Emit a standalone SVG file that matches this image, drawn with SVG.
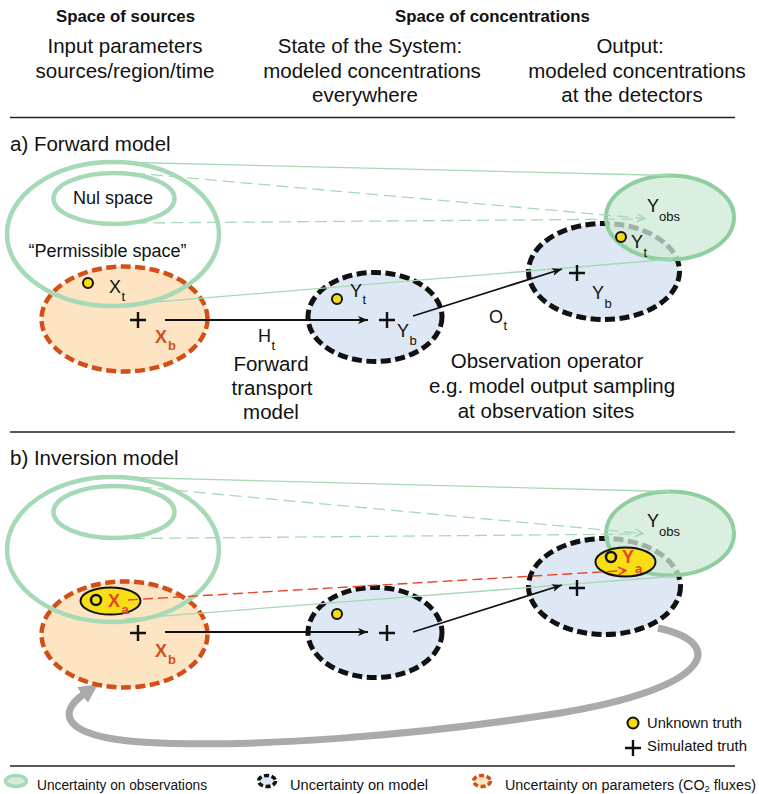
<svg xmlns="http://www.w3.org/2000/svg" width="759" height="794" viewBox="0 0 759 794">
<style>
text{font-family:"Liberation Sans",Arial,sans-serif;fill:#111}
.hb{font-size:16.8px;font-weight:bold;text-anchor:middle}
.h{font-size:20.5px;text-anchor:middle}
.sec{font-size:20.5px}
.lab{font-size:18px}
.sub{font-size:13px}
.red{fill:#e2462a;font-weight:bold}
.redb{fill:#d2501c;font-weight:bold}
.leg{font-size:15px}
.legb{font-size:14px}
.sep{stroke:#222;stroke-width:1.3}
.gr{fill:none;stroke:#a6d9b6;stroke-width:4.5}
.grl{fill:none;stroke:#a6d9b6;stroke-width:1.3}
.grd{fill:none;stroke:#a6d9b6;stroke-width:1.3;stroke-dasharray:12 6}
.obs{fill:#cfe9d5;fill-opacity:0.75;stroke:#8fcea0;stroke-width:4}
.org{fill:#fde4c3;stroke:#d44f18;stroke-width:4.5;stroke-dasharray:10 4.5}
.blu{fill:#dde8f4;stroke:#111;stroke-width:5;stroke-dasharray:10 4.5}
.dot{fill:#f7da10;stroke:#111;stroke-width:2}
.ring{fill:none;stroke:#111;stroke-width:2.5}
.yel{fill:#f8df14;stroke:#111;stroke-width:2}
.plus{stroke:#111;stroke-width:2.4}
.arr{stroke:#111;stroke-width:1.8;fill:none}
.rd{stroke:#e8442a;stroke-width:1.4;stroke-dasharray:10 5;fill:none}
</style>
<defs>
<marker id="ah" viewBox="0 0 10 8" refX="10" refY="4" markerWidth="10" markerHeight="8" markerUnits="userSpaceOnUse" orient="auto"><path d="M0,0 L10,4 L0,8 L2.5,4 z" fill="#111"/></marker>
<marker id="gch" viewBox="0 0 10 10" refX="9" refY="5" markerWidth="10" markerHeight="10" markerUnits="userSpaceOnUse" orient="auto"><path d="M1,1 L9,5 L1,9" fill="none" stroke="#a6d9b6" stroke-width="1.4"/></marker>
<marker id="rch" viewBox="0 0 10 10" refX="9" refY="5" markerWidth="10" markerHeight="10" markerUnits="userSpaceOnUse" orient="auto"><path d="M1,1 L9,5 L1,9" fill="none" stroke="#e8442a" stroke-width="1.6"/></marker>
<marker id="gah" viewBox="0 0 10 10" refX="1" refY="5" markerWidth="19" markerHeight="19" markerUnits="userSpaceOnUse" orient="auto"><path d="M0,0 L10,5 L0,10 z" fill="#aaaaaa"/></marker>
</defs>

<g id="header">
<text class="hb" x="125.5" y="22">Space of sources</text>
<text class="hb" x="492.5" y="22">Space of concentrations</text>
<text class="h" x="125" y="53">Input parameters</text>
<text class="h" x="125" y="78">sources/region/time</text>
<text class="h" x="370" y="53">State of the System:</text>
<text class="h" x="372" y="78">modeled concentrations</text>
<text class="h" x="365" y="102">everywhere</text>
<text class="h" x="630" y="53">Output:</text>
<text class="h" x="637" y="78">modeled concentrations</text>
<text class="h" x="632" y="102">at the detectors</text>
</g>
<line class="sep" x1="10" y1="117.5" x2="735" y2="117.5"/>
<line class="sep" x1="10" y1="432" x2="735" y2="432"/>
<line class="sep" x1="10" y1="766" x2="735" y2="766"/>

<!-- section a -->
<text class="sec" x="10" y="151">a) Forward model</text>
<g id="a-params">
<ellipse class="org" cx="124.5" cy="319" rx="83" ry="52.5"/>
</g>
<g id="a-permissible">
<ellipse class="gr" cx="113" cy="234" rx="106" ry="72"/>
<text class="lab" x="107.5" y="257" text-anchor="middle">“Permissible space”</text>
</g>
<g id="a-nul">
<ellipse class="gr" cx="114" cy="198.5" rx="60.5" ry="25.5"/>
<text class="lab" x="113" y="204" text-anchor="middle">Nul space</text>
</g>
<g id="a-state">
<ellipse class="blu" cx="375" cy="317" rx="67" ry="44.5"/>
</g>
<g id="a-output">
<ellipse class="blu" cx="604" cy="271.5" rx="75.5" ry="48"/>
</g>
<g id="a-obs">
<ellipse class="obs" cx="670" cy="217.5" rx="64" ry="42"/>
<text class="lab" x="647" y="212">Y</text><text class="sub" x="659" y="221">obs</text>
</g>
<g id="a-connectors">
<line class="grl" x1="113" y1="162" x2="670" y2="175.5"/>
<line class="grl" x1="120" y1="305" x2="673" y2="259"/>
<line class="grd" x1="133" y1="173" x2="645" y2="218.5" marker-end="url(#gch)"/>
<line class="grd" x1="135" y1="223" x2="645" y2="219"/>
<line class="arr" x1="165" y1="320" x2="368" y2="320" marker-end="url(#ah)"/>
<line class="arr" x1="413" y1="316" x2="562" y2="269" marker-end="url(#ah)"/>
</g>
<g id="a-labels">
<circle class="dot" cx="88" cy="283" r="5"/>
<text class="lab" x="109" y="293">X</text><text class="sub" x="121.5" y="301">t</text>
<path class="plus" d="M130,320 H146 M138,312 V328"/>
<text class="lab redb" x="155" y="343">X</text><text class="sub redb" x="168" y="350">b</text>
<circle class="dot" cx="337" cy="299" r="5"/>
<text class="lab" x="350" y="297">Y</text><text class="sub" x="362.5" y="304">t</text>
<path class="plus" d="M379,320 H395 M387,312 V328"/>
<text class="lab" x="397" y="337">Y</text><text class="sub" x="409.5" y="345">b</text>
<path class="plus" d="M569,273 H585 M577,265 V281"/>
<text class="lab" x="592" y="299">Y</text><text class="sub" x="604.5" y="308">b</text>
<circle class="dot" cx="621" cy="237" r="5"/>
<text class="lab" x="631" y="248">Y</text><text class="sub" x="643.5" y="257">t</text>
<text class="lab" x="258" y="342">H</text><text class="sub" x="271.5" y="350">t</text>
<text class="h" x="271" y="371">Forward</text>
<text class="h" x="272" y="395">transport</text>
<text class="h" x="271" y="419">model</text>
<text class="lab" x="489" y="323">O</text><text class="sub" x="503.5" y="330">t</text>
<text class="h" x="547" y="368">Observation operator</text>
<text class="h" x="552" y="393">e.g. model output sampling</text>
<text class="h" x="546" y="418">at observation sites</text>
</g>

<!-- section b -->
<text class="sec" x="10" y="465">b) Inversion model</text>
<g id="b-feedback">
<path d="M658,628 C728,643 712,688 560,713 C420,735 250,749 140,742 C60,736 58,712 84,694" fill="none" stroke="#aaaaaa" stroke-width="7" marker-end="url(#gah)"/>
</g>
<g id="b-params">
<ellipse class="org" cx="124.5" cy="634.5" rx="83" ry="53"/>
</g>
<g id="b-permissible">
<ellipse class="gr" cx="113" cy="549.5" rx="106" ry="72.5"/>
</g>
<g id="b-nul">
<ellipse class="gr" cx="114" cy="512" rx="60.5" ry="26"/>
</g>
<g id="b-state">
<ellipse class="blu" cx="375" cy="632.5" rx="67" ry="45"/>
</g>
<g id="b-output">
<ellipse class="blu" cx="604.5" cy="586.5" rx="76" ry="48"/>
</g>
<g id="b-obs">
<ellipse class="obs" cx="670" cy="533.5" rx="64" ry="42"/>
<text class="lab" x="647" y="527">Y</text><text class="sub" x="659" y="536">obs</text>
</g>
<g id="b-connectors">
<line class="grl" x1="113" y1="477" x2="670" y2="491.5"/>
<line class="grl" x1="125" y1="619" x2="677" y2="576"/>
<line class="grd" x1="140" y1="487" x2="643" y2="533.5" marker-end="url(#gch)"/>
<line class="grd" x1="133" y1="538.5" x2="643" y2="534"/>
<line class="arr" x1="165" y1="632" x2="368" y2="632" marker-end="url(#ah)"/>
<line class="arr" x1="413" y1="632" x2="562" y2="585" marker-end="url(#ah)"/>
</g>
<g id="b-xa">
<ellipse class="yel" cx="110.5" cy="601" rx="30" ry="13.5"/>
<circle class="ring" cx="96" cy="600" r="5"/>
<text class="lab red" x="108" y="607">X</text><text class="sub red" x="121.5" y="614">a</text>
</g>
<g id="b-ya">
<ellipse class="yel" cx="625.5" cy="562" rx="30" ry="14.5"/>
<circle class="ring" cx="611" cy="557" r="5"/>
<text class="lab red" x="622" y="563">Y</text><text class="sub red" x="635" y="573">a</text>
</g>
<line class="rd" x1="128" y1="600" x2="626" y2="570.5" marker-end="url(#rch)"/>
<g id="b-labels">
<path class="plus" d="M130,633 H146 M138,625 V641"/>
<text class="lab redb" x="155" y="657">X</text><text class="sub redb" x="168" y="664">b</text>
<circle class="dot" cx="337" cy="614" r="5"/>
<path class="plus" d="M379,633 H395 M387,625 V641"/>
<path class="plus" d="M569,588 H585 M577,580 V596"/>
</g>

<g id="legend-right">
<circle class="dot" cx="633" cy="723" r="5.5"/>
<text class="leg" x="647" y="728" textLength="95" lengthAdjust="spacingAndGlyphs">Unknown truth</text>
<path class="plus" d="M625,748 H641 M633,740 V756"/>
<text class="leg" x="647" y="751" textLength="100" lengthAdjust="spacingAndGlyphs">Simulated truth</text>
</g>
<g id="legend-bottom">
<ellipse cx="16" cy="781" rx="10.5" ry="5.5" fill="#d4ecda" stroke="#a6d9b6" stroke-width="3.5"/>
<text class="legb" x="37" y="790" textLength="170" lengthAdjust="spacingAndGlyphs">Uncertainty on observations</text>
<ellipse cx="267" cy="781" rx="8.5" ry="5.5" fill="#dde8f4" stroke="#111" stroke-width="3.5" stroke-dasharray="5 2.5"/>
<text class="legb" x="290" y="790" textLength="138" lengthAdjust="spacingAndGlyphs">Uncertainty on model</text>
<ellipse cx="482" cy="781" rx="8.5" ry="5.5" fill="#fde4c3" stroke="#d44f18" stroke-width="3.5" stroke-dasharray="5 2.5"/>
<text class="legb" x="505" y="790" textLength="251" lengthAdjust="spacingAndGlyphs">Uncertainty on parameters (CO<tspan font-size="9" dy="2">2</tspan><tspan dy="-2"> fluxes)</tspan></text>
</g>
</svg>
